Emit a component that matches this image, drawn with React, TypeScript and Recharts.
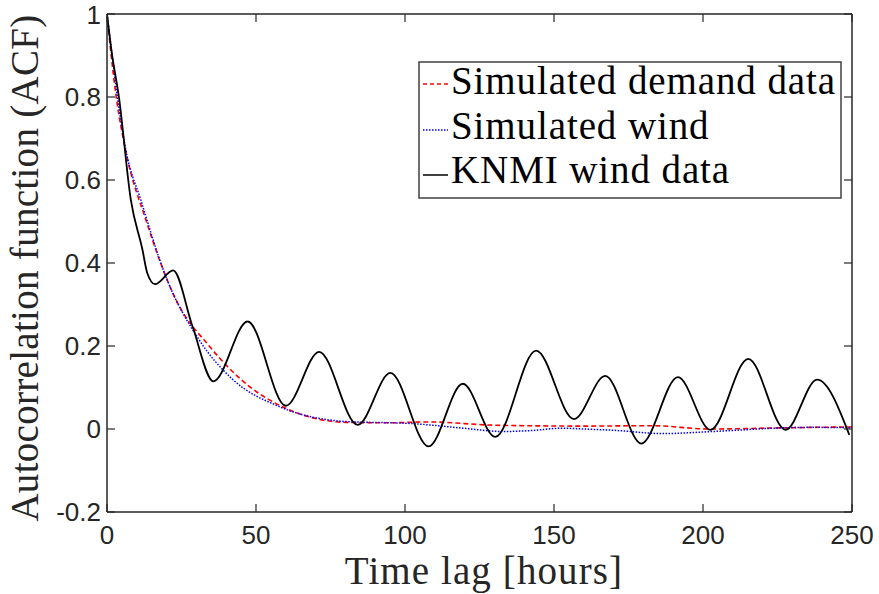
import { LineChart, Line, XAxis, YAxis, Legend, Label } from 'recharts'

const X_TICKS = [0, 50, 100, 150, 200, 250]
const Y_TICKS = [-0.2, 0, 0.2, 0.4, 0.6, 0.8, 1]

// simulated demand (red dashed)
const demandLag = [0, 1.2, 3.1, 6.2, 13, 23.1, 34.3, 47.7, 60, 80.2, 94.8, 108, 130.6, 160, 183, 202, 228, 250]
const demandAcf = [1, 0.914, 0.8, 0.673, 0.505, 0.312, 0.2, 0.103, 0.05, 0.016, 0.015, 0.017, 0.009, 0.007, 0.008, 0.0, 0.003, 0.005]

// simulated wind (blue dotted)
const windLag = [0, 1.5, 3.5, 6.3, 11.3, 19.7, 30.9, 42.1, 57.8, 80.2, 102.6, 119.4, 132.8, 141.8, 153, 160, 169.8, 186.6, 203.4, 228, 237, 250]
const windAcf = [1, 0.914, 0.8, 0.673, 0.553, 0.368, 0.215, 0.12, 0.054, 0.018, 0.013, 0.002, -0.006, -0.004, 0.002, 0.0, -0.003, -0.011, -0.006, 0.003, 0.004, 0.003]

// KNMI measured wind (black)
const knmiLag = [0, 1.45, 4, 8, 11.9, 13.5, 16.1, 22.2, 28.7, 35.7, 47.2, 60, 71.2, 84.1, 95.1, 107.9, 119.4, 130.3, 144, 156.7, 167.2, 179.3, 191.6, 202.5, 215.2, 227.7, 238.3, 249.1]
const knmiAcf = [1, 0.914, 0.8, 0.552, 0.432, 0.376, 0.349, 0.382, 0.247, 0.115, 0.259, 0.056, 0.186, 0.01, 0.135, -0.042, 0.109, -0.019, 0.189, 0.024, 0.128, -0.035, 0.125, -0.002, 0.169, -0.002, 0.119, -0.014]

const toPoints = (lag: number[], acf: number[]) => lag.map((l, i) => ({ lag: l, acf: acf[i] }))

const AXIS = '#262626'
const SANS = '"Liberation Sans", Arial, sans-serif'
const SERIF = '"Liberation Serif", "Times New Roman", serif'
const tickStyle = { fontFamily: SANS, fontSize: 26, fill: AXIS }
const tickLine = { stroke: AXIS, strokeWidth: 1.2 }

function LegendBox() {
  const text = { fontFamily: SERIF, fontSize: 39, fill: '#000', letterSpacing: 0.9 }
  return (
    <svg width={424} height={138} style={{ display: 'block', overflow: 'visible' }}>
      <rect x={1} y={1} width={422} height={136} fill="#fff" stroke="#404040" strokeWidth={1.5} />
      <line x1={5} x2={30} y1={23} y2={23} stroke="#ff0000" strokeWidth={1.5} strokeDasharray="4 3" />
      <text x={33} y={33} {...text}>Simulated demand data</text>
      <line x1={5} x2={30} y1={69} y2={69} stroke="#0000ff" strokeWidth={1.5} strokeDasharray="1.5 1.5" />
      <text x={33} y={78} {...text}>Simulated wind</text>
      <line x1={5} x2={30} y1={114} y2={114} stroke="#000" strokeWidth={1.5} />
      <text x={33} y={122} {...text}>KNMI wind data</text>
    </svg>
  )
}

export default function App() {
  return (
    <div style={{ position: 'absolute', left: 0, top: 0, background: '#fff' }}>
      <LineChart width={879} height={594} margin={{ top: 13, right: 26, left: 0, bottom: 0 }}>
        <XAxis
          dataKey="lag" type="number" domain={[0, 250]} ticks={X_TICKS} allowDataOverflow
          height={82} stroke={AXIS} strokeWidth={1.5} tickSize={-8} tickMargin={22} tick={tickStyle} tickLine={tickLine}
        >
          <Label
            content={() => (
              <text x={484} y={584} textAnchor="middle" fontFamily={SERIF} fontSize={39} letterSpacing={1.1} fill={AXIS}>
                Time lag [hours]
              </text>
            )}
          />
        </XAxis>
        <XAxis
          xAxisId="top" orientation="top" dataKey="lag" type="number" domain={[0, 250]} ticks={X_TICKS}
          allowDataOverflow height={1} stroke={AXIS} strokeWidth={1.5} tickSize={-8} tickLine={tickLine}
          tickFormatter={() => ''}
        />
        <YAxis
          type="number" domain={[-0.2, 1]} ticks={Y_TICKS} allowDataOverflow width={107}
          stroke={AXIS} strokeWidth={1.5} tickSize={-8} tickMargin={14} tick={tickStyle} tickLine={tickLine}
        >
          <Label
            content={() => (
              <text x={38} y={268} transform="rotate(-90 38 268)" textAnchor="middle" fontFamily={SERIF} fontSize={39} letterSpacing={0.3} fill={AXIS}>
                Autocorrelation function (ACF)
              </text>
            )}
          />
        </YAxis>
        <YAxis
          yAxisId="right" orientation="right" type="number" domain={[-0.2, 1]} ticks={Y_TICKS}
          allowDataOverflow width={1} stroke={AXIS} strokeWidth={1.5} tickSize={-8} tickLine={tickLine}
          tickFormatter={() => ''}
        />
        <Line
          data={toPoints(demandLag, demandAcf)} dataKey="acf" type="monotone" stroke="#ff0000"
          strokeWidth={1.6} strokeDasharray="5 3" dot={false} isAnimationActive={false}
        />
        <Line
          data={toPoints(windLag, windAcf)} dataKey="acf" type="monotone" stroke="#0000ff"
          strokeWidth={1.5} strokeDasharray="1.5 1.5" dot={false} isAnimationActive={false}
        />
        <Line
          data={toPoints(knmiLag, knmiAcf)} dataKey="acf" type="monotone" stroke="#000000"
          strokeWidth={1.8} dot={false} isAnimationActive={false}
        />
        <Legend
          layout="horizontal" align="center" verticalAlign="middle"
          wrapperStyle={{ left: 418, top: 61, width: 424, height: 138 }}
          content={() => <LegendBox />}
        />
      </LineChart>
    </div>
  )
}
